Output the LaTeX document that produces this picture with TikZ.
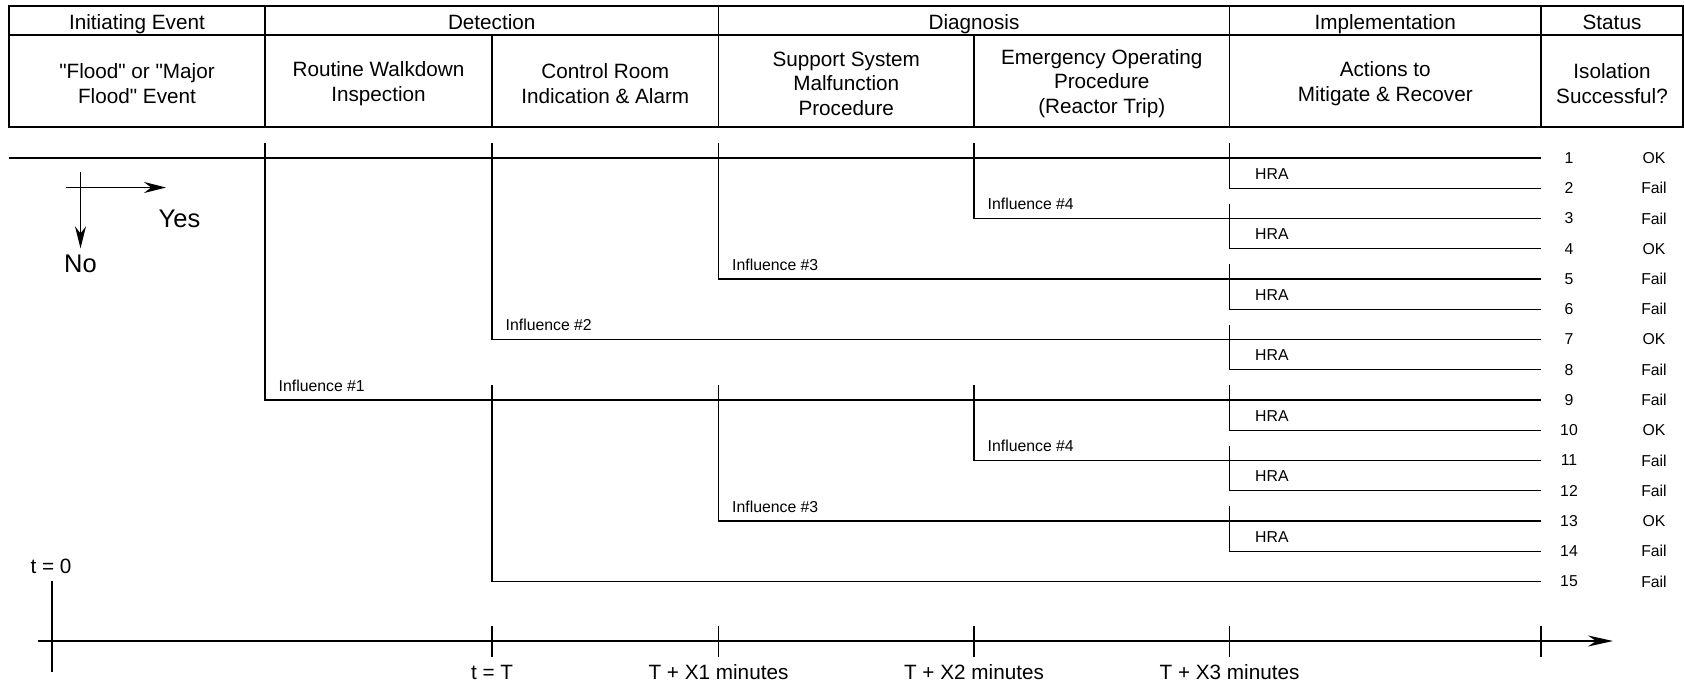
\documentclass[tikz,border=0pt]{standalone}
\usepackage{fontspec}
\setmainfont{Liberation Sans}[Ligatures=TeXOff]
\usetikzlibrary{arrows.meta,calc}

\begin{document}
\begin{tikzpicture}[x=1pt,y=-1pt,
  rule/.style={line width=1.5pt,black},
  branch/.style={line width=1.4pt,black},
  hdr/.style={font=\fontsize{20.7}{24.4}\selectfont,align=center,inner sep=0pt},
  hdrline/.style={font=\fontsize{20.7}{24.4}\selectfont,inner sep=0pt,anchor=base},
  lbl/.style={font=\fontsize{15.8}{19}\selectfont,inner sep=0pt,anchor=base west},
  endlbl/.style={font=\fontsize{15.8}{19}\selectfont,inner sep=0pt},
  big/.style={font=\fontsize{25.5}{30}\selectfont,inner sep=0pt,anchor=base},
  legendarrow/.style={line width=1.4pt,-{Stealth[length=22pt,width=11pt]}},
  axisarrow/.style={line width=1.4pt,-{Stealth[length=25pt,width=11pt]}}]

\useasboundingbox (0,0) rectangle (1684,686);

% column positions (decision points)
\coordinate (c0) at (9,0);
\coordinate (c1) at (265,0);
\coordinate (c2) at (492,0);
\coordinate (c3) at (718.5,0);
\coordinate (c4) at (974,0);
\coordinate (c5) at (1229.5,0);
\coordinate (c6) at (1541,0);
\coordinate (cNum) at (1569,0);
\coordinate (cOut) at (1654,0);
% end-state rows
\foreach \k in {1,...,15} \coordinate (r\k) at (0,{158+30.25*(\k-1)});

% ---- header table ----
\draw[rule] (9,6) rectangle (1683,127);
\draw[rule] (9,35) -- (1683,35);
\foreach \x in {265,718.5,1229.5,1541} \draw[rule] (\x,6) -- (\x,127);
\foreach \x in {492,974} \draw[rule] (\x,35) -- (\x,127);

\node[hdrline] (hInit) at (137,29) {Initiating Event};
\node[hdrline] (hDet)  at (491.75,29) {Detection};
\node[hdrline] (hDia)  at (974,29) {Diagnosis};
\node[hdrline] (hImp)  at (1385.25,29) {Implementation};
\node[hdrline] (hSta)  at (1612,29) {Status};

\node[hdr] (cFlood) at (137,83.5) {"Flood" or "Major\\Flood" Event};
\node[hdr] (cWalk)  at (378.5,83.5) {Routine Walkdown\\Inspection};
\node[hdr] (cCR)    at (605.25,83.5) {Control Room\\Indication \& Alarm};
\node[hdr] (cSSM)   at (846.25,83.5) {Support System\\Malfunction\\Procedure};
\node[hdr] (cEOP)   at (1101.75,83.5) {Emergency Operating\\Procedure\\(Reactor Trip)};
\node[hdr] (cAct)   at (1385.25,83.5) {Actions to\\Mitigate \& Recover};
\node[hdr] (cIso)   at (1612,83.5) {Isolation\\Successful?};

% ---- event tree ----
\draw[branch] (c0 |- r1) -- (c6 |- r1);
% Influence #1
\draw[branch] ($(c1 |- r1)+(0,-15)$) -- (c1 |- r9) -- (c6 |- r9);
% Influence #2
\draw[branch] ($(c2 |- r1)+(0,-15)$) -- (c2 |- r7) -- (c6 |- r7);
\draw[branch] ($(c2 |- r9)+(0,-15)$) -- (c2 |- r15) -- (c6 |- r15);
% Influence #3
\draw[branch] ($(c3 |- r1)+(0,-15)$) -- (c3 |- r5) -- (c6 |- r5);
\draw[branch] ($(c3 |- r9)+(0,-15)$) -- (c3 |- r13) -- (c6 |- r13);
% Influence #4
\draw[branch] ($(c4 |- r1)+(0,-15)$) -- (c4 |- r3) -- (c6 |- r3);
\draw[branch] ($(c4 |- r9)+(0,-15)$) -- (c4 |- r11) -- (c6 |- r11);
% HRA recovery branches
\foreach \k/\n in {1/2,3/4,5/6,7/8,9/10,11/12,13/14}{
  \draw[branch] ($(c5 |- r\k)+(0,-15)$) -- (c5 |- r\n) -- (c6 |- r\n);
  \node[lbl] (hra\n) at ($(c5 |- r\n)+(25.5,-9)$) {HRA};
}

\node[lbl] (inf1)  at ($(c1 |- r9)+(13.5,-9)$)  {Influence \#1};
\node[lbl] (inf2)  at ($(c2 |- r7)+(13.5,-9)$)  {Influence \#2};
\node[lbl] (inf3a) at ($(c3 |- r5)+(13.5,-9)$)  {Influence \#3};
\node[lbl] (inf3b) at ($(c3 |- r13)+(13.5,-9)$) {Influence \#3};
\node[lbl] (inf4a) at ($(c4 |- r3)+(13.5,-9)$)  {Influence \#4};
\node[lbl] (inf4b) at ($(c4 |- r11)+(13.5,-9)$) {Influence \#4};

% sequence numbers and outcomes
\foreach \k/\s in {1/OK,2/Fail,3/Fail,4/OK,5/Fail,6/Fail,7/OK,8/Fail,
                   9/Fail,10/OK,11/Fail,12/Fail,13/OK,14/Fail,15/Fail}{
  \node[endlbl] (num\k) at (cNum |- r\k) {\k};
  \node[endlbl] (out\k) at (cOut |- r\k) {\s};
}

% ---- legend ----
\coordinate (yesS) at (66,187.5);
\coordinate (yesE) at (166,187.5);
\coordinate (noS) at (80.5,172.3);
\coordinate (noE) at (80.5,248.3);
\draw[legendarrow] (yesS) -- (yesE);
\draw[legendarrow] (noS) -- (noE);
\node[big] (yes) at (179.5,227.3) {Yes};
\node[big] (no) at (80.5,272.3) {No};

% ---- time axis ----
\coordinate (tS) at (38,641);
\coordinate (tE) at (1613,641);
\draw[axisarrow] (tS) -- (tE);
\coordinate (t0top) at (52,580.7);
\coordinate (t0bot) at (52,671.7);
\draw[rule] (t0top) -- (t0bot);
\node[hdrline] (t0) at (51,573) {t = 0};
\foreach \c in {c2,c3,c4,c5,c6}
  \draw[rule] ($(\c |- tS)+(0,-15.5)$) -- ($(\c |- tS)+(0,15.5)$);
\node[hdrline] (tT)  at ($(c2 |- tS)+(0,38.5)$) {t = T};
\node[hdrline] (tX1) at ($(c3 |- tS)+(0,38.5)$) {T + X1 minutes};
\node[hdrline] (tX2) at ($(c4 |- tS)+(0,38.5)$) {T + X2 minutes};
\node[hdrline] (tX3) at ($(c5 |- tS)+(0,38.5)$) {T + X3 minutes};

\end{tikzpicture}
\end{document}
